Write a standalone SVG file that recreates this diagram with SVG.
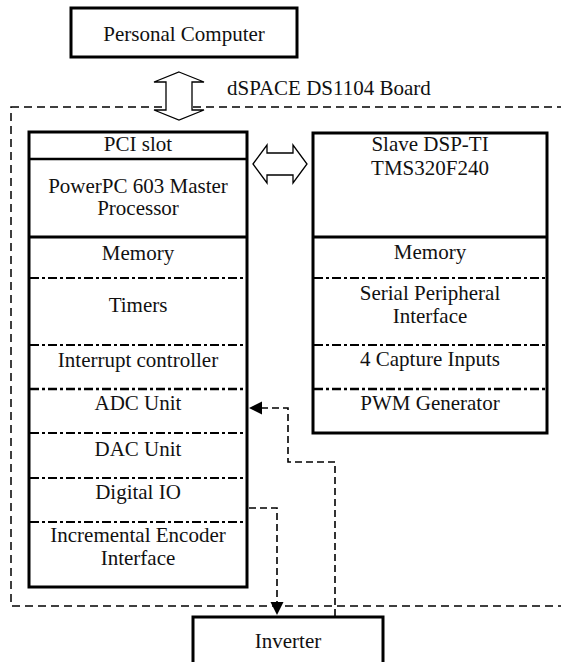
<svg xmlns="http://www.w3.org/2000/svg" width="561" height="662" viewBox="0 0 561 662" font-family="'Liberation Serif', 'DejaVu Serif', serif">
<style>
text{font-family:'Liberation Serif','DejaVu Serif',serif;font-size:21px;fill:#111;text-anchor:middle}
.box{fill:#fff;stroke:#000;stroke-width:3}
.solid{stroke:#000;stroke-width:2.5}
.dd{stroke:#000;stroke-width:1.8;stroke-dasharray:9 3 3 3;fill:none}
.board{fill:none;stroke:#000;stroke-width:1.5;stroke-dasharray:8 5}
.conn{fill:none;stroke:#000;stroke-width:1.6;stroke-dasharray:7 4}
.dbl{fill:#fff;stroke:#000;stroke-width:1.3;stroke-linejoin:miter}
</style>
<rect width="561" height="662" fill="#fff"/>
<g id="board">
<rect class="board" x="11" y="107" width="600" height="499"/>
<text x="227" y="95" style="text-anchor:start">dSPACE DS1104 Board</text>
</g>
<g id="pc">
<rect class="box" x="71" y="8" width="226" height="49"/>
<text x="184" y="41">Personal Computer</text>
</g>
<g id="master">
<rect class="box" x="29" y="132" width="218" height="455"/>
<line class="solid" x1="29" y1="159" x2="247" y2="159"/>
<line class="solid" x1="29" y1="237" x2="247" y2="237" style="stroke-width:3"/>
<line class="dd" x1="30" y1="278" x2="246" y2="278"/>
<line class="dd" x1="30" y1="345" x2="246" y2="345"/>
<line class="dd" x1="30" y1="389" x2="246" y2="389" style="stroke-width:2.4"/>
<line class="dd" x1="30" y1="433" x2="246" y2="433"/>
<line class="dd" x1="30" y1="478" x2="246" y2="478"/>
<line class="dd" x1="30" y1="522" x2="246" y2="522"/>
<text x="138" y="151">PCI slot</text>
<text x="138" y="193">PowerPC 603 Master</text>
<text x="138" y="215">Processor</text>
<text x="138" y="260">Memory</text>
<text x="138" y="312">Timers</text>
<text x="138" y="367">Interrupt controller</text>
<text x="138" y="410">ADC Unit</text>
<text x="138" y="456">DAC Unit</text>
<text x="138" y="499">Digital IO</text>
<text x="138" y="542">Incremental Encoder</text>
<text x="138" y="565">Interface</text>
</g>
<g id="slave">
<rect class="box" x="313" y="133" width="234" height="300"/>
<line class="solid" x1="313" y1="237" x2="547" y2="237" style="stroke-width:3"/>
<line class="dd" x1="314" y1="278" x2="546" y2="278"/>
<line class="dd" x1="314" y1="345" x2="546" y2="345"/>
<line class="dd" x1="314" y1="389" x2="546" y2="389" style="stroke-width:2.4"/>
<text x="430" y="151">Slave DSP-TI</text>
<text x="430" y="175">TMS320F240</text>
<text x="430" y="259">Memory</text>
<text x="430" y="300">Serial Peripheral</text>
<text x="430" y="323">Interface</text>
<text x="430" y="366">4 Capture Inputs</text>
<text x="430" y="410">PWM Generator</text>
</g>
<g id="inverter">
<rect class="box" x="193" y="617" width="190" height="60"/>
<text x="288" y="648">Inverter</text>
</g>
<g id="connectors">
<path class="dbl" d="M179,72 L204,82 L192,82 L192,110 L204,110 L179,120 L154,110 L166,110 L166,82 L154,82 Z"/>
<path class="dbl" d="M253,164 L267,145 L267,153 L293,153 L293,145 L307,164 L293,183 L293,175 L267,175 L267,183 Z"/>
<path class="conn" d="M335,616 L335,462 L288,462 L288,408 L260,408"/>
<polygon points="249,408 262,401.5 262,414.5" fill="#000"/>
<path class="conn" d="M249,508 L277,508 L277,602"/>
<polygon points="277,615 270.5,602 283.5,602" fill="#000"/>
</g>
</svg>
